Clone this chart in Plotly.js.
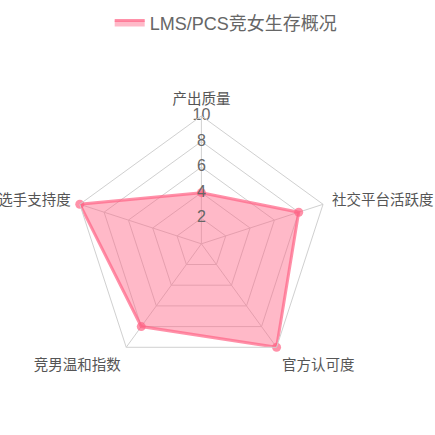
<!DOCTYPE html>
<html><head><meta charset="utf-8">
<script src="https://cdn.plot.ly/plotly-3.0.1.min.js"></script>
<style>html,body{margin:0;padding:0;background:#fff}#c{width:435px;height:435px}</style>
</head><body><div id="c"></div>
<script>
const categories = ['产出质量','社交平台活跃度','官方认可度','竞男温和指数','选手支持度'];
const values = [4, 8, 10, 8, 10];
const seriesName = 'LMS/PCS竞女生存概况';
const tickVals = [2, 4, 6, 8, 10];
const tickLabels = ['2','4','6','8','10'];

const font = '"Helvetica Neue", Arial, "Liberation Sans", "Noto Sans CJK SC", sans-serif';
const rClosed = values.concat([values[0]]);
const thetaClosed = categories.concat([categories[0]]);
const traces = [
  {
    type: 'scatterpolar',
    r: rClosed,
    theta: thetaClosed,
    name: seriesName,
    mode: 'lines',
    fill: 'toself',
    fillcolor: 'rgba(255,99,132,0.45)',
    line: {color: 'rgba(255,99,132,0.7)', width: 3},
    hoverinfo: 'skip'
  },
  {
    type: 'scatterpolar',
    r: values,
    theta: categories,
    mode: 'markers',
    marker: {color: 'rgba(255,99,132,0.7)', size: 9},
    showlegend: false,
    hoverinfo: 'skip'
  },
  {
    type: 'scatterpolar',
    r: tickVals,
    theta: tickVals.map(() => categories[0]),
    text: tickLabels,
    mode: 'text',
    textfont: {family: font, size: 16, color: '#666'},
    textposition: 'middle center',
    showlegend: false,
    hoverinfo: 'skip'
  }
];
const layout = {
  width: 435, height: 435,
  margin: {l: 0, r: 0, t: 0, b: 0},
  paper_bgcolor: '#fff',
  showlegend: true,
  legend: {
    orientation: 'h', x: 0.52, xanchor: 'center', y: 0.99, yanchor: 'top',
    font: {family: font, size: 18, color: '#666'}
  },
  polar: {
    domain: {x: [0.169, 0.757], y: [0.145, 0.734]},
    bgcolor: 'rgba(0,0,0,0)',
    gridshape: 'linear',
    radialaxis: {
      range: [0, 10], tickvals: tickVals, showticklabels: false, ticks: '',
      showline: false, gridcolor: '#d0d0d0', gridwidth: 1, angle: 90
    },
    angularaxis: {
      rotation: 90, direction: 'clockwise',
      tickfont: {family: font, size: 14.5, color: '#555'},
      ticks: 'outside', ticklen: 6, tickcolor: 'rgba(0,0,0,0)',
      gridcolor: '#d0d0d0', linecolor: '#d0d0d0', linewidth: 1
    }
  }
};
Plotly.newPlot('c', traces, layout, {displayModeBar: false, staticPlot: true});
</script></body></html>
